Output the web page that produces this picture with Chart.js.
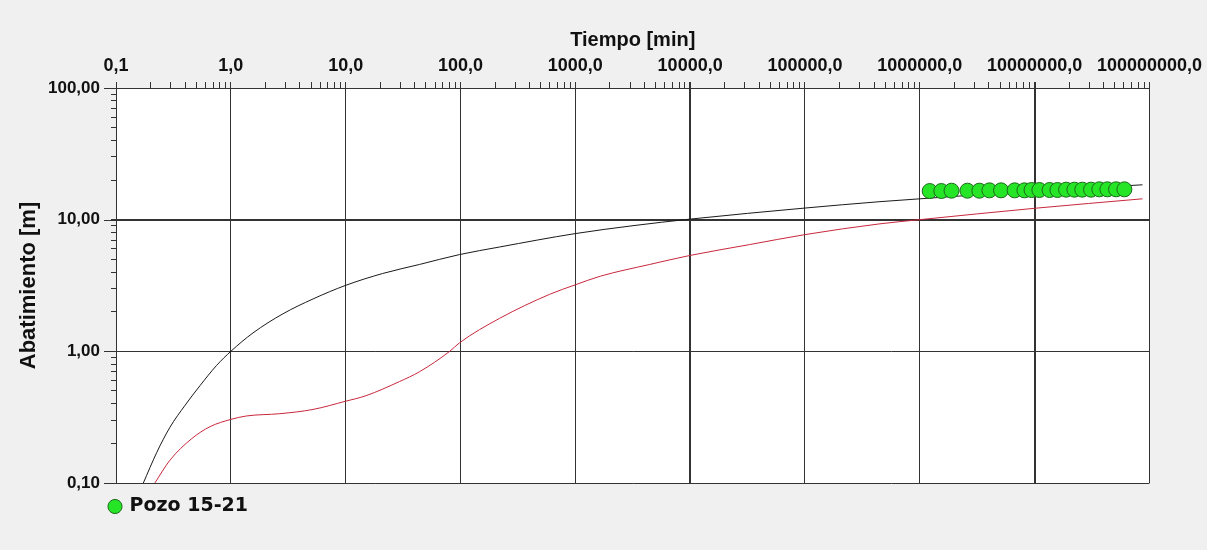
<!DOCTYPE html>
<html>
<head>
<meta charset="utf-8">
<script src="https://cdn.jsdelivr.net/npm/chart.js@4"></script>
<style>
  body { margin: 0; background: #f0f0f0; }
</style>
</head>
<body>
<canvas id="abatimiento" width="1207" height="550"></canvas>
<script>
// decades shown on the axes
const xDecades = [0.1, 1, 10, 100, 1000, 10000, 100000, 1000000, 10000000, 100000000];
const yDecades = [0.1, 1, 10, 100];

// theoretical curve (black)
const tiempoTeorico = [0.173, 0.226, 0.295, 0.40, 0.54, 0.75, 1.0, 1.56, 2.85, 5.2, 10, 21, 44, 98, 219, 1000, 3180, 10000, 100000, 450000, 1000000, 10000000, 87000000];
const abatTeorico = [0.1, 0.17, 0.265, 0.39, 0.55, 0.78, 1.0, 1.38, 1.93, 2.5, 3.17, 3.9, 4.57, 5.43, 6.2, 7.84, 9.0, 10.1, 12.25, 13.7, 14.4, 16.5, 18.4];

// second curve (red)
const tiempoRojo = [0.218, 0.295, 0.456, 0.66, 1.0, 1.37, 2.67, 5.2, 10, 15, 29.5, 44, 80.5, 98, 219, 598, 1000, 1650, 4450, 10000, 33000, 100000, 450000, 1000000, 10000000, 87000000];
const abatRojo = [0.1, 0.149, 0.217, 0.268, 0.304, 0.323, 0.336, 0.362, 0.418, 0.46, 0.59, 0.70, 1.0, 1.16, 1.78, 2.71, 3.2, 3.72, 4.57, 5.35, 6.47, 7.7, 9.3, 10.0, 12.2, 14.4];

// observed drawdown, Pozo 15-21
const tiempoPozo = [1.22e6, 1.54e6, 1.89e6, 2.6e6, 3.3e6, 4.04e6, 5.1e6, 6.7e6, 8.15e6, 9.4e6, 1.1e7, 1.35e7, 1.58e7, 1.88e7, 2.22e7, 2.6e7, 3.1e7, 3.66e7, 4.3e7, 5.12e7, 6.05e7];
const abatPozo = [16.5, 16.5, 16.6, 16.6, 16.6, 16.7, 16.7, 16.7, 16.7, 16.8, 16.8, 16.8, 16.8, 16.9, 16.9, 16.9, 16.9, 17.0, 17.0, 17.0, 17.0];

const heavyX = [10000, 10000000];
const heavyY = [10];

const pts = (xs, ys) => xs.map((x, i) => ({ x: x, y: ys[i] }));

function logTicks(decades) {
    const t = [];
    decades.forEach((d, i) => {
        t.push({ value: d, major: true });
        if (i < decades.length - 1) {
            for (let k = 2; k <= 9; k++) t.push({ value: d * k, major: false });
        }
    });
    return t;
}

const background = {
    id: 'background',
    beforeDraw(chart) {
        const { ctx, chartArea: a } = chart;
        ctx.save();
        ctx.fillStyle = '#f0f0f0';
        ctx.fillRect(0, 0, chart.width, chart.height);
        ctx.fillStyle = '#ffffff';
        ctx.fillRect(a.left, a.top, a.right - a.left, a.bottom - a.top);
        ctx.restore();
    }
};

// legend sits under the plot, starting just left of the y axis
const legendShift = {
    id: 'legendShift',
    afterLayout(chart) {
        chart.legend.left = chart.chartArea.left - 20;
    }
};

// the decade ticks on the y axis are longer than the minor ones
const longTicks = {
    id: 'longTicks',
    afterDraw(chart) {
        const { ctx, chartArea: a, scales } = chart;
        ctx.save();
        ctx.strokeStyle = '#333';
        ctx.lineWidth = 1;
        scales.y.ticks.filter(t => t.major).forEach(t => {
            const y = Math.round(scales.y.getPixelForValue(t.value)) + 0.5;
            ctx.beginPath();
            ctx.moveTo(a.left - 12, y);
            ctx.lineTo(a.left, y);
            ctx.stroke();
        });
        ctx.restore();
    }
};

new Chart('abatimiento', {
    type: 'scatter',
    data: {
        datasets: [{
            label: 'Pozo 15-21',
            data: pts(tiempoPozo, abatPozo),
            pointStyle: 'circle',
            pointRadius: 7.5,
            pointBackgroundColor: '#26e426',
            backgroundColor: '#26e426',
            pointBorderColor: '#1c6a1c',
            borderColor: '#1c6a1c',
            borderWidth: 1,
            showLine: false
        },
        {
            label: 'teorico',
            data: pts(tiempoTeorico, abatTeorico),
            showLine: true,
            borderColor: '#1a1a1a',
            borderWidth: 1,
            pointRadius: 0,
            cubicInterpolationMode: 'monotone'
        },
        {
            label: 'rojo',
            data: pts(tiempoRojo, abatRojo),
            showLine: true,
            borderColor: '#c8283c',
            borderWidth: 1,
            pointRadius: 0,
            cubicInterpolationMode: 'monotone'
        }]
    },
    options: {
        responsive: false,
        animation: false,
        devicePixelRatio: 1,
        layout: {
            padding: { top: 26, right: 57, bottom: 24, left: 0 }
        },
        plugins: {
            tooltip: { enabled: false },
            legend: {
                position: 'bottom',
                align: 'start',
                labels: {
                    usePointStyle: true,
                    boxWidth: 10,
                    boxHeight: 10,
                    padding: 14,
                    color: '#111',
                    font: { family: 'DejaVu Sans', size: 19, weight: 'bold' },
                    filter: item => item.datasetIndex === 0
                }
            }
        },
        scales: {
            x: {
                type: 'logarithmic',
                position: 'top',
                min: 0.1,
                max: 100000000,
                afterBuildTicks: axis => { axis.ticks = logTicks(xDecades); },
                afterFit: axis => { axis.height = 62; },
                ticks: {
                    autoSkip: false,
                    maxRotation: 0,
                    minRotation: 0,
                    padding: 5,
                    color: '#111',
                    font: { family: 'Liberation Sans', size: 18, weight: 'bold' },
                    callback: (v, i, ticks) => ticks[i].major ? v.toFixed(1).replace('.', ',') : ''
                },
                grid: {
                    color: c => c.tick && c.tick.major ? '#333' : 'rgba(0,0,0,0)',
                    lineWidth: c => c.tick && heavyX.includes(c.tick.value) ? 2 : 1,
                    tickColor: '#333',
                    tickLength: 6
                },
                border: { color: '#333' },
                title: {
                    display: true,
                    text: 'Tiempo [min]',
                    color: '#111',
                    font: { family: 'Liberation Sans', size: 20, weight: 'bold' },
                    padding: { top: 2, bottom: 2 }
                }
            },
            y: {
                type: 'logarithmic',
                min: 0.1,
                max: 100,
                afterBuildTicks: axis => { axis.ticks = logTicks(yDecades); },
                afterFit: axis => { axis.width = 116; },
                ticks: {
                    autoSkip: false,
                    padding: 11,
                    color: '#111',
                    font: { family: 'Liberation Sans', size: 17, weight: 'bold' },
                    callback: (v, i, ticks) => ticks[i].major ? v.toFixed(2).replace('.', ',') : ''
                },
                grid: {
                    color: c => c.tick && c.tick.major ? '#333' : 'rgba(0,0,0,0)',
                    lineWidth: c => c.tick && heavyY.includes(c.tick.value) ? 2 : 1,
                    tickColor: '#333',
                    tickLength: 5
                },
                border: { color: '#333' },
                title: {
                    display: true,
                    text: 'Abatimiento [m]',
                    color: '#111',
                    font: { family: 'Liberation Sans', size: 22, weight: 'bold' },
                    padding: { top: 16, bottom: 0 }
                }
            }
        }
    },
    plugins: [background, legendShift, longTicks]
});
</script>
</body>
</html>
